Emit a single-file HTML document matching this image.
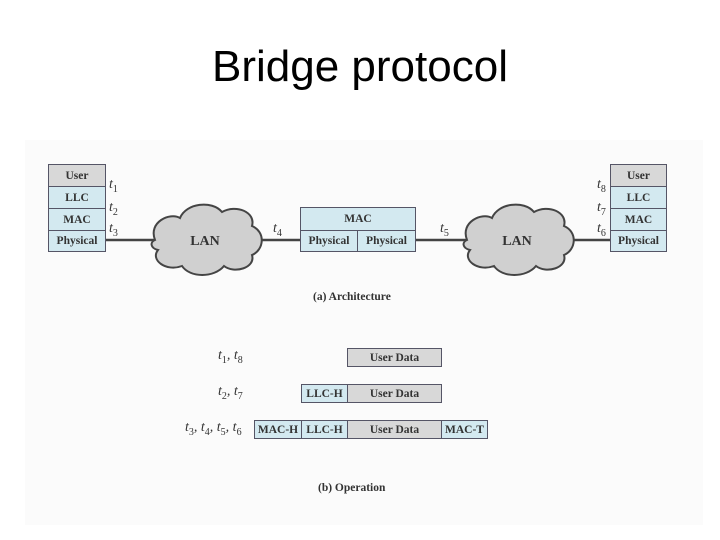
<!DOCTYPE html>
<html><head><style>
body{margin:0;width:720px;height:540px;background:#fff;position:relative;overflow:hidden;font-family:"Liberation Serif",serif}
.t{position:absolute;left:0;width:720px;text-align:center;top:42px;font:44px "Liberation Sans",sans-serif;color:#000}
.b{position:absolute;box-sizing:border-box;border:1px solid #556;font-weight:bold;font-size:11.5px;color:#333;text-align:center;display:flex;align-items:center;justify-content:center}
.g{background:#d8d8d8}.c{background:#d3e9f0}
.l{position:absolute;font-style:italic;font-size:14px;color:#333}
.l sub{font-style:normal;font-size:10px}
.cap{position:absolute;font-weight:bold;font-size:11.5px;color:#333}
</style></head><body>
<div class="t">Bridge protocol</div>
<div style="position:absolute;left:25px;top:140px;width:678px;height:385px;background:#fbfbfb"></div>
<svg style="position:absolute;left:0;top:0" width="720" height="540">
<line x1="106" y1="240" x2="300" y2="240" stroke="#444" stroke-width="2.5"/>
<line x1="415" y1="240" x2="610" y2="240" stroke="#444" stroke-width="2.5"/>
<g fill="#d0d0d0" stroke="#444" stroke-width="2">
<path d="M155 240 C148 222 170 212 180 218 C186 203 212 200 222 212 C236 204 256 212 252 226 C266 232 264 250 252 255 C256 268 234 274 224 266 C214 278 190 278 182 266 C166 272 150 260 158 250 C150 248 150 242 155 240Z"/>
<path d="M467 240 C460 222 482 212 492 218 C498 203 524 200 534 212 C548 204 568 212 564 226 C578 232 576 250 564 255 C568 268 546 274 536 266 C526 278 502 278 494 266 C478 272 462 260 470 250 C462 248 462 242 467 240Z"/>
</g>
<text x="205" y="245" text-anchor="middle" font-family="Liberation Serif" font-weight="bold" font-size="14" fill="#333">LAN</text>
<text x="517" y="245" text-anchor="middle" font-family="Liberation Serif" font-weight="bold" font-size="14" fill="#333">LAN</text>
</svg>
<div class="b g" style="left:48px;top:164px;width:58px;height:23px">User</div>
<div class="b c" style="left:48px;top:186px;width:58px;height:23px">LLC</div>
<div class="b c" style="left:48px;top:208px;width:58px;height:23px">MAC</div>
<div class="b c" style="left:48px;top:230px;width:58px;height:22px">Physical</div>
<div class="b g" style="left:610px;top:164px;width:57px;height:23px">User</div>
<div class="b c" style="left:610px;top:186px;width:57px;height:23px">LLC</div>
<div class="b c" style="left:610px;top:208px;width:57px;height:23px">MAC</div>
<div class="b c" style="left:610px;top:230px;width:57px;height:22px">Physical</div>
<div class="b c" style="left:300px;top:207px;width:116px;height:24px">MAC</div>
<div class="b c" style="left:300px;top:230px;width:58px;height:22px">Physical</div>
<div class="b c" style="left:357px;top:230px;width:59px;height:22px">Physical</div>
<div class="l" style="left:109px;top:177px">t<sub>1</sub></div>
<div class="l" style="left:109px;top:200px">t<sub>2</sub></div>
<div class="l" style="left:109px;top:221px">t<sub>3</sub></div>
<div class="l" style="left:273px;top:221px">t<sub>4</sub></div>
<div class="l" style="left:440px;top:221px">t<sub>5</sub></div>
<div class="l" style="left:597px;top:177px">t<sub>8</sub></div>
<div class="l" style="left:597px;top:200px">t<sub>7</sub></div>
<div class="l" style="left:597px;top:221px">t<sub>6</sub></div>
<div class="cap" style="left:313px;top:291px">(a) Architecture</div>
<div class="b g" style="left:347px;top:348px;width:95px;height:19px">User Data</div>
<div class="b c" style="left:301px;top:384px;width:47px;height:19px">LLC-H</div>
<div class="b g" style="left:347px;top:384px;width:95px;height:19px">User Data</div>
<div class="b c" style="left:254px;top:420px;width:48px;height:19px">MAC-H</div>
<div class="b c" style="left:301px;top:420px;width:47px;height:19px">LLC-H</div>
<div class="b g" style="left:347px;top:420px;width:95px;height:19px">User Data</div>
<div class="b c" style="left:441px;top:420px;width:47px;height:19px">MAC-T</div>
<div class="l" style="left:218px;top:348px">t<sub>1</sub>, t<sub>8</sub></div>
<div class="l" style="left:218px;top:384px">t<sub>2</sub>, t<sub>7</sub></div>
<div class="l" style="left:185px;top:420px">t<sub>3</sub>, t<sub>4</sub>, t<sub>5</sub>, t<sub>6</sub></div>
<div class="cap" style="left:318px;top:482px">(b) Operation</div>
</body></html>
